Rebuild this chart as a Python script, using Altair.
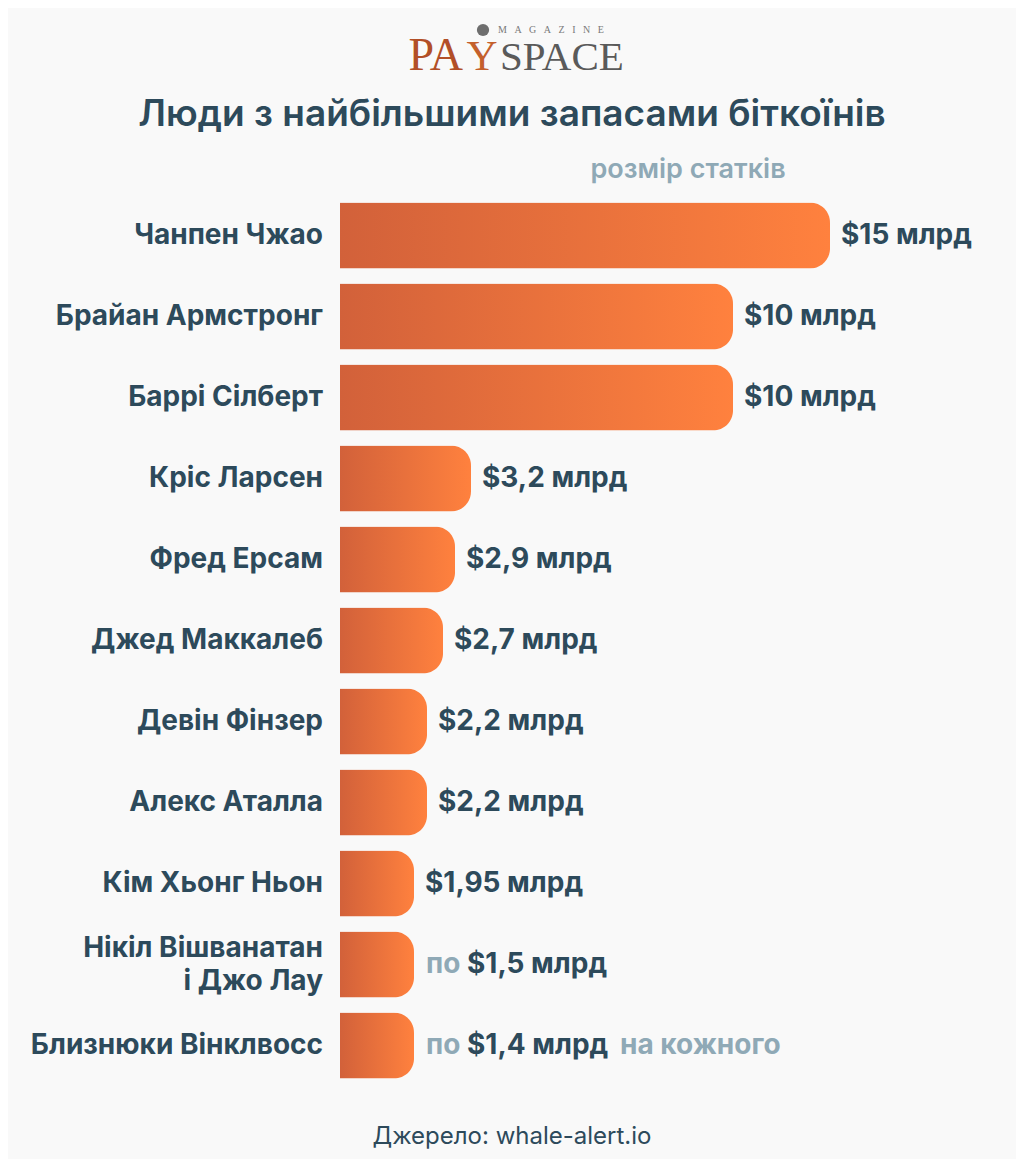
import altair as alt
import pandas as pd

names = ["Чанпен Чжао", "Брайан Армстронг", "Баррі Сілберт", "Кріс Ларсен", "Фред Ерсам",
         "Джед Маккалеб", "Девін Фінзер", "Алекс Аталла", "Кім Хьонг Ньон",
         "Нікіл Вішванатан\nі Джо Лау", "Близнюки Вінклвосс"]
values = [15, 10, 10, 3.2, 2.9, 2.7, 2.2, 2.2, 1.95, 1.5, 1.4]
value_labels = ["$15 млрд", "$10 млрд", "$10 млрд", "$3,2 млрд", "$2,9 млрд", "$2,7 млрд",
                "$2,2 млрд", "$2,2 млрд", "$1,95 млрд", "$1,5 млрд", "$1,4 млрд"]
prefixes = ["", "", "", "", "", "", "", "", "", "по", "по"]
suffixes = ["", "", "", "", "", "", "", "", "", "", "на кожного"]

title_text = "Люди з найбільшими запасами біткоїнів"
subtitle_text = "розмір статків"
source_text = "Джерело: whale-alert.io"

df = pd.DataFrame({"name": names, "value": values, "label": value_labels,
                   "prefix": prefixes, "suffix": suffixes})

DARK = "#2D4A5B"
LIGHT = "#8FA9B6"
FONT = "Inter"
NBSP = "\u00A0"

# designer's display scale (bars are not strictly proportional in the original)
x_scale = alt.Scale(domain=[0, 1.4, 1.95, 2.2, 2.7, 2.9, 3.2, 10, 15],
                    range=[0, 74, 74, 87, 103, 115, 131, 393, 490], clamp=False)

y_enc = alt.Y("name:N", sort=names,
              scale=alt.Scale(paddingInner=0.185, paddingOuter=0.0925),
              axis=None)
x_enc = alt.X("value:Q", scale=x_scale, axis=None)

base = alt.Chart(df)

bars = base.mark_bar(
    cornerRadiusEnd=20,
    color=alt.Gradient(gradient="linear",
                       stops=[alt.GradientStop(color="#D2613A", offset=0),
                              alt.GradientStop(color="#FF813E", offset=1)],
                       x1=0, x2=1, y1=0, y2=0),
).encode(x=x_enc, y=y_enc)

name_one = base.transform_filter("indexof(datum.name, '\\n') < 0").mark_text(
    align="right", baseline="middle", font=FONT, fontSize=28, fontWeight=700, color=DARK
).encode(x=alt.value(-17), y=y_enc, text="name:N")

name_two = base.transform_filter("indexof(datum.name, '\\n') >= 0").transform_calculate(
    lines="split(datum.name, '\\n')"
).mark_text(
    align="right", baseline="middle", dy=-16, lineHeight=33, font=FONT, fontSize=28,
    fontWeight=700, color=DARK
).encode(x=alt.value(-17), y=y_enc, text="lines:N")

lab_plain = base.transform_filter("datum.prefix == ''").mark_text(
    align="left", baseline="middle", dx=11, font=FONT, fontSize=28, fontWeight=700, color=DARK
).encode(x=x_enc, y=y_enc, text="label:N")

lab_pref = base.transform_filter("datum.prefix != ''").mark_text(
    align="left", baseline="middle", dx=12, font=FONT, fontSize=28, fontWeight=700, color=LIGHT
).encode(x=x_enc, y=y_enc, text="prefix:N")

lab_val2 = base.transform_filter("datum.prefix != ''").mark_text(
    align="left", baseline="middle", dx=53, font=FONT, fontSize=28, fontWeight=700, color=DARK
).encode(x=x_enc, y=y_enc, text="label:N")

lab_suf = base.transform_filter("datum.suffix != ''").mark_text(
    align="left", baseline="middle", dx=206, font=FONT, fontSize=28, fontWeight=700, color=LIGHT
).encode(x=x_enc, y=y_enc, text="suffix:N")


def note(text, x, y, **kw):
    return alt.Chart(pd.DataFrame({"t": [text]})).mark_text(**kw).encode(
        x=alt.value(x), y=alt.value(y), text="t:N")


title = note(title_text, 172, -80, align="center", baseline="middle", font=FONT,
             fontSize=37, fontWeight=600, color=DARK)
subtitle = note(subtitle_text, 348, -25, align="center", baseline="middle", font=FONT,
                fontSize=27, fontWeight=600, color=LIGHT)
source = note(source_text, 172, 942, align="center", baseline="middle", font=FONT,
              fontSize=24, fontWeight=400, color=DARK)

logo_pa = note("PA", 123, -125, align="right", baseline="alphabetic", font="Liberation Serif",
               fontSize=46, color="#B24F27")
logo_y = note("Y", 142, -125, align="center", baseline="alphabetic", font="Liberation Serif",
              fontSize=43, color="#C4602C")
logo_space = note("SPACE", 160, -125, align="left", baseline="alphabetic", font="Liberation Serif",
                  fontSize=41, color="#5A5A5A")
logo_mag = note((NBSP * 3).join("MAGAZINE"), 158, -162,
                align="left", baseline="alphabetic",
                font="Liberation Serif", fontSize=10, color="#7A7A7A")
logo_dot = alt.Chart(pd.DataFrame({"t": [1]})).mark_circle(
    size=150, color="#6E6E6E", opacity=1).encode(x=alt.value(143), y=alt.value(-165))

chart = alt.layer(
    bars, name_one, name_two, lab_plain, lab_pref, lab_val2, lab_suf,
    title, subtitle, source, logo_pa, logo_y, logo_space, logo_mag, logo_dot
).properties(
    width=640, height=891,
    autosize=alt.AutoSizeParams(type="none"),
    padding={"left": 332, "top": 187, "right": 36, "bottom": 73},
    background="#F9F9F9",
).configure_view(stroke=None)

chart.save("out.html", embed_options={"renderer": "svg", "actions": False})
